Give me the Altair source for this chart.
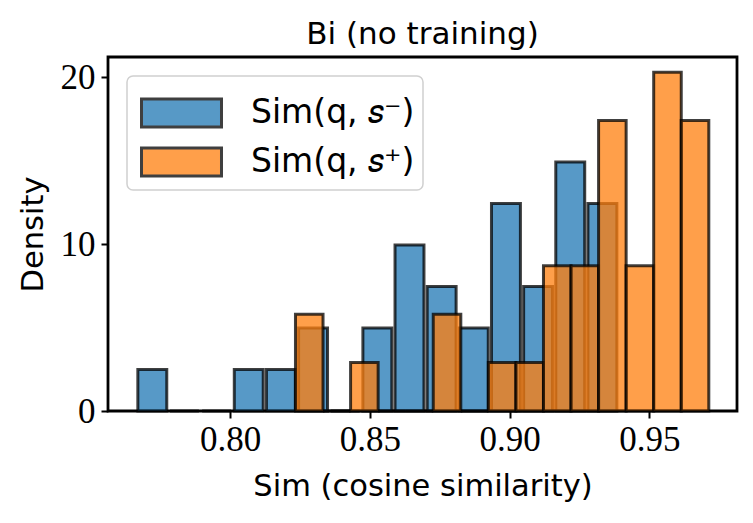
import altair as alt
import pandas as pd

# ---- data ----
series_names = ["Sim(q, 𝑠⁻)", "Sim(q, 𝑠⁺)"]
series_colors = ["#1f77b4", "#ff7f0e"]

blue_bin_start = 0.7664
blue_bin_width = 0.0115
blue_counts = [1, 0, 0, 1, 1, 2, 0, 2, 4, 3, 2, 5, 3, 6, 5]

orange_bin_start = 0.82336
orange_bin_width = 0.009857
orange_counts = [2, 0, 1, 0, 0, 2, 0, 1, 1, 3, 3, 6, 3, 7, 6]

n_samples = 35
bar_fraction = [0.9, 1.0]

x_ticks = [0.80, 0.85, 0.90, 0.95]
y_ticks = [0, 10, 20]

rows = []
specs = [
    (series_names[0], blue_bin_start, blue_bin_width, blue_counts, bar_fraction[0]),
    (series_names[1], orange_bin_start, orange_bin_width, orange_counts, bar_fraction[1]),
]
for k, (name, start, width, counts, frac) in enumerate(specs):
    for i, c in enumerate(counts):
        lo = start + i * width
        pad = width * (1 - frac) / 2
        rows.append({
            "series": name,
            "x0": lo + pad,
            "x1": lo + width - pad,
            "density": c / (n_samples * width),
            "base": 0.0,
            "layer": k,
        })
df = pd.DataFrame(rows)

bars = alt.Chart(df).mark_rect(
    stroke="black", strokeWidth=3, fillOpacity=0.75, strokeOpacity=0.75
).encode(
    x=alt.X("x0:Q",
            scale=alt.Scale(domain=[0.7563, 0.9813], nice=False, zero=False),
            axis=alt.Axis(values=x_ticks, format=".2f", title="Sim (cosine similarity)",
                          grid=False, domain=False)),
    x2="x1:Q",
    y=alt.Y("density:Q",
            scale=alt.Scale(domain=[0, 21.2], nice=False),
            axis=alt.Axis(values=y_ticks, format="d", title="Density",
                          grid=False, domain=False)),
    y2="base:Q",
    color=alt.Color("series:N",
                    scale=alt.Scale(domain=series_names, range=series_colors),
                    legend=alt.Legend(title=None, orient="none", legendX=19, legendY=19)),
    order=alt.Order("layer:Q"),
)

chart = bars.properties(
    width=629,
    height=354,
    title=alt.TitleParams("Bi (no training)", font="DejaVu Sans", fontSize=31,
                          fontWeight="normal", color="black", offset=6),
    autosize=alt.AutoSizeParams(type="none"),
    padding={"left": 100, "top": 49, "right": 8, "bottom": 100},
).configure_view(
    stroke="black", strokeWidth=2.8
).configure_axis(
    labelFont="Liberation Serif", labelFontSize=35, labelColor="black",
    tickColor="black", tickWidth=2, tickSize=7,
    titleFont="DejaVu Sans", titleFontSize=30.5, titleFontWeight="normal", titleColor="black",
).configure_axisX(
    labelPadding=4, titlePadding=14
).configure_axisY(
    labelPadding=6, titlePadding=12
).configure_legend(
    symbolType="M-1.4545,-0.509H1.4545V0.509H-1.4545Z",
    symbolSize=3025,
    symbolStrokeColor="black",
    symbolStrokeWidth=3,
    symbolOpacity=0.75,
    labelFont="DejaVu Sans", labelFontSize=33, labelColor="black",
    padding=8, rowPadding=0, labelOffset=40.5, symbolOffset=17.5,
    strokeColor="#d0d0d0", fillColor="white", cornerRadius=6, strokeWidth=1.5,
    labelLimit=400,
)

chart.save("out.html", embed_options={"renderer": "svg", "actions": False})
